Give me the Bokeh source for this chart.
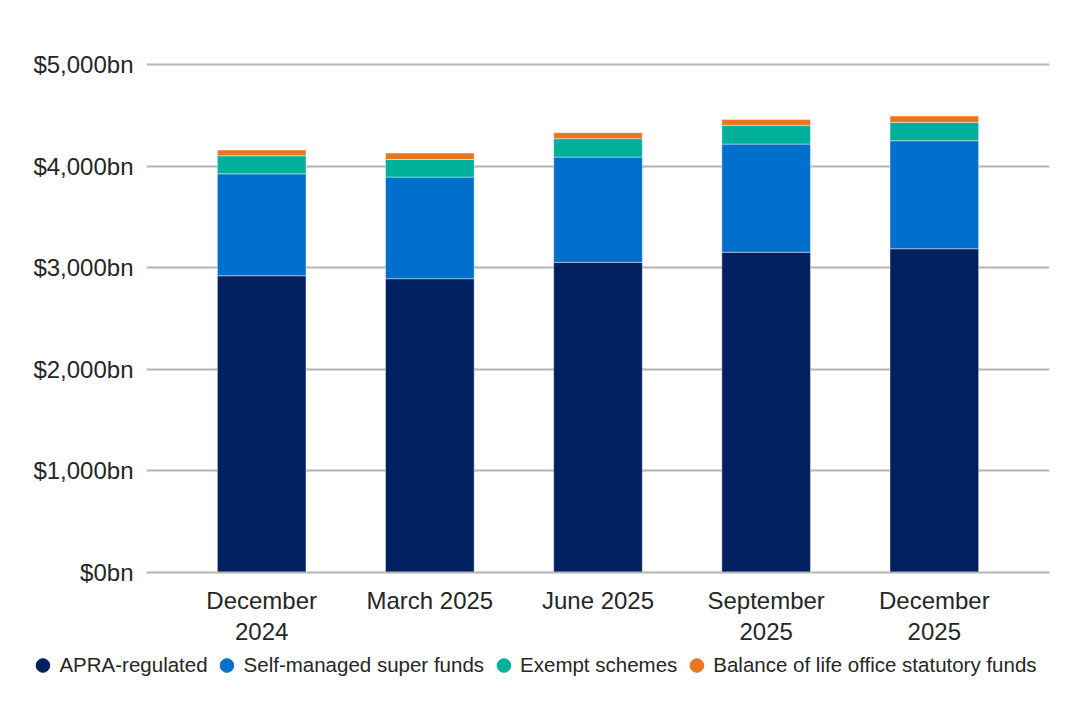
from bokeh.plotting import figure
from bokeh.models import ColumnDataSource, FactorRange, Range1d, Legend, LegendItem, FixedTicker
from bokeh.embed import file_html
from bokeh.resources import INLINE

# ---- data ----
quarters = ["December\n2024", "March 2025", "June 2025", "September\n2025", "December\n2025"]
apra = [2921, 2892, 3053, 3152, 3187]
smsf = [1003, 1000, 1036, 1065, 1063]
exempt = [178, 173, 181, 184, 180]
life = [56, 63, 59, 59, 63]
series_keys = ["apra", "smsf", "exempt", "life"]
series_names = ["APRA-regulated", "Self-managed super funds", "Exempt schemes",
                "Balance of life office statutory funds"]
colors = ["#002060", "#0070CC", "#00B09A", "#E87722"]
y_ticks = [0, 1000, 2000, 3000, 4000, 5000]
y_tick_labels = ["$0bn", "$1,000bn", "$2,000bn", "$3,000bn", "$4,000bn", "$5,000bn"]

FONT = "Liberation Sans"
TXT = "#262626"
GRID = "#b4b4b4"
W = 1070

source = ColumnDataSource(dict(q=quarters, apra=apra, smsf=smsf, exempt=exempt, life=life,
                               apra_mid=[v / 2 for v in apra]))

p = figure(
    x_range=FactorRange(factors=quarters, range_padding=0.185, range_padding_units="absolute"),
    y_range=Range1d(0, 5020),
    frame_width=903, frame_height=510,
    output_backend="svg", toolbar_location=None,
    min_border_left=146, min_border_right=W - 146 - 903, min_border_top=62, min_border_bottom=74,
)
p.outline_line_color = None

p.vbar_stack(series_keys, x="q", width=0.527, source=source, color=colors,
             line_color="white", line_width=0.6, line_alpha=0.7)

# axes
p.yaxis.ticker = FixedTicker(ticks=y_ticks)
p.yaxis.major_label_overrides = {t: l for t, l in zip(y_ticks, y_tick_labels)}
p.yaxis.axis_line_color = None
p.yaxis.major_tick_line_color = None
p.yaxis.minor_tick_line_color = None
p.yaxis.major_label_standoff = 7
p.yaxis.major_label_text_font = FONT
p.yaxis.major_label_text_font_size = "24px"
p.yaxis.major_label_text_color = TXT

p.xaxis.axis_line_color = GRID
p.xaxis.axis_line_width = 2
p.xaxis.major_tick_line_color = None
p.xaxis.minor_tick_line_color = None
p.xaxis.major_tick_out = 0
p.xaxis.major_label_standoff = 14
p.xaxis.major_label_text_font = FONT
p.xaxis.major_label_text_font_size = "24px"
p.xaxis.major_label_text_color = TXT
p.xaxis.major_label_text_line_height = 1.15

p.xgrid.grid_line_color = None
p.ygrid.grid_line_color = GRID
p.ygrid.grid_line_width = 2

# ---- legend strip (separate root so its frame spans the full width) ----
lg = figure(x_range=FactorRange(factors=quarters), y_range=Range1d(-2, -1),
            width=1062, height=36, output_backend="svg", toolbar_location=None,
            x_axis_type=None, y_axis_type=None,
            min_border_left=0, min_border_right=0, min_border_top=0, min_border_bottom=0)
lg.outline_line_color = None
lg.xgrid.grid_line_color = None
lg.ygrid.grid_line_color = None
markers = [lg.scatter(x="q", y="apra_mid", source=source, marker="circle", size=10,
                      fill_color=c, line_color=c) for c in colors]
items = [LegendItem(label=name, renderers=[r]) for name, r in zip(series_names, markers)]
legend = Legend(items=items, orientation="horizontal", location="center",
                glyph_width=34, glyph_height=34, label_standoff=0, spacing=2,
                label_text_font=FONT, label_text_font_size="20.5px", label_text_color=TXT,
                border_line_color=None, background_fill_alpha=0, margin=0, padding=0)
lg.add_layout(legend, "center")

open("out.html", "w").write(file_html([p, lg], INLINE))
